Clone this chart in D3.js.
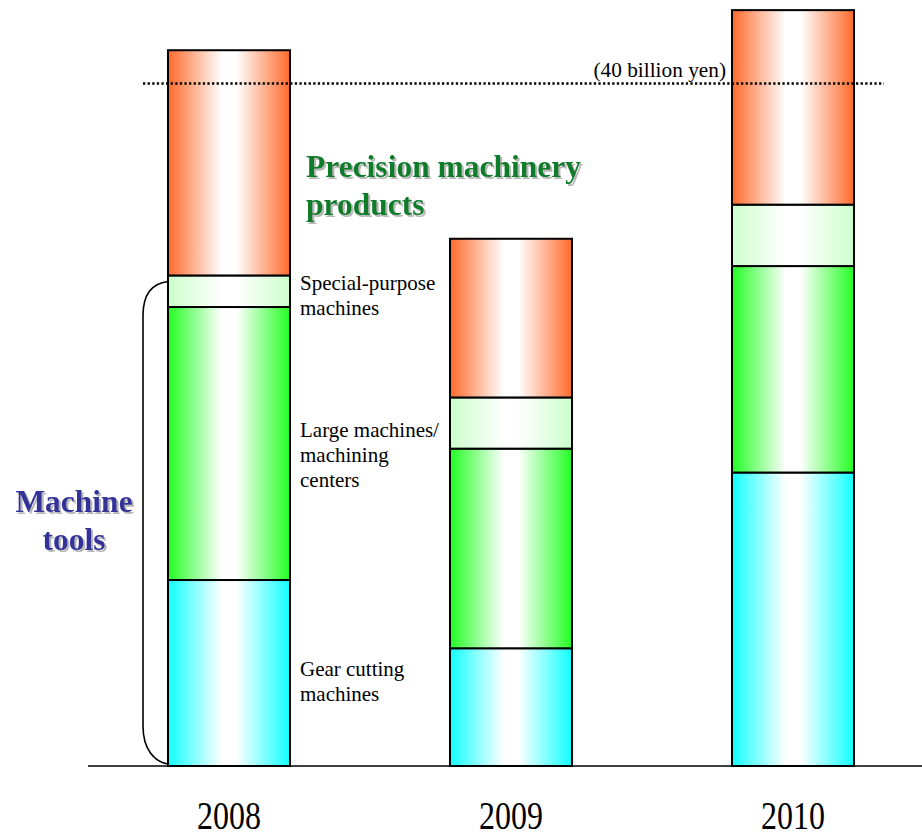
<!DOCTYPE html>
<html>
<head>
<meta charset="utf-8">
<script src="https://cdn.jsdelivr.net/npm/d3@7/dist/d3.min.js"></script>
<style>
  html, body { margin: 0; padding: 0; background: #ffffff; }
  svg { display: block; }
  text { font-family: "Liberation Serif", "Times New Roman", serif; }
</style>
</head>
<body>
<svg id="chart" width="922" height="839"></svg>
<script>
// Sales by segment (billion yen)
const years = ["2008", "2009", "2010"];
const gearCutting = [10.9, 6.9, 17.2];
const largeMachines = [16.0, 11.7, 12.1];
const specialPurpose = [1.85, 3.0, 3.6];
const precisionProducts = [13.2, 9.3, 11.4];
const referenceLevel = 40;
const referenceLabel = "(40 billion yen)";

const segmentNames = ["gear", "large", "special", "precision"];
const segmentValues = [gearCutting, largeMachines, specialPurpose, precisionProducts];
const segmentColors = {
  gear: "#11ffff",
  large: "#22ff22",
  special: "#ccffcc",
  precision: "#ff6a2b"
};

const svg = d3.select("#chart");
const defs = svg.append("defs");

// Horizontal "cylinder" shading: saturated edges, white centre
segmentNames.forEach(name => {
  const g = defs.append("linearGradient")
    .attr("id", "grad-" + name)
    .attr("x1", "0").attr("x2", "1").attr("y1", "0").attr("y2", "0");
  [[0, segmentColors[name]], [0.44, "#ffffff"], [0.56, "#ffffff"], [1, segmentColors[name]]]
    .forEach(([o, c]) => g.append("stop").attr("offset", o).attr("stop-color", c));
});

// Soft grey drop shadow for the group titles
const shadow = defs.append("filter").attr("id", "title-shadow")
  .attr("x", "-10%").attr("y", "-20%").attr("width", "130%").attr("height", "150%");
shadow.append("feDropShadow")
  .attr("dx", 2).attr("dy", 2).attr("stdDeviation", 0.6)
  .attr("flood-color", "#b8b8b8").attr("flood-opacity", 1);

const baseY = 766;
const y = d3.scaleLinear().domain([0, referenceLevel]).range([baseY, 83.5]);
const x = d3.scaleBand().domain(years).range([168, 854]).paddingInner(0.5674).paddingOuter(0);

// Stack the segments
const rows = years.map((yr, i) => {
  const r = { year: yr };
  segmentNames.forEach((n, k) => r[n] = segmentValues[k][i]);
  return r;
});
const stacked = d3.stack().keys(segmentNames)(rows);

const barsG = svg.append("g");
stacked.forEach(layer => {
  barsG.selectAll(null)
    .data(layer)
    .join("rect")
    .attr("x", d => x(d.data.year))
    .attr("width", x.bandwidth())
    .attr("y", d => y(d[1]))
    .attr("height", d => y(d[0]) - y(d[1]))
    .attr("fill", "url(#grad-" + layer.key + ")")
    .attr("stroke", "#000")
    .attr("stroke-width", 2);
});

// Baseline
svg.append("line")
  .attr("x1", 88).attr("x2", 922)
  .attr("y1", baseY).attr("y2", baseY)
  .attr("stroke", "#000").attr("stroke-width", 1.5);

// Reference level (dotted)
svg.append("line")
  .attr("x1", 143).attr("x2", 884)
  .attr("y1", y(referenceLevel)).attr("y2", y(referenceLevel))
  .attr("stroke", "#000").attr("stroke-width", 2.4)
  .attr("stroke-dasharray", "2.3,2.3");
svg.append("text")
  .attr("x", 726).attr("y", y(referenceLevel) - 7)
  .attr("text-anchor", "end")
  .attr("font-size", 21.3)
  .text(referenceLabel);

// Year labels (tall, narrow numerals)
svg.append("g").selectAll("text")
  .data(years)
  .join("text")
  .attr("transform", d => `translate(${x(d) + x.bandwidth() / 2},829) scale(0.78,1)`)
  .attr("text-anchor", "middle")
  .attr("font-size", 41)
  .text(d => d);

// Bracket grouping the machine-tool segments of the first bar
const b0 = stacked[2][0];
const bx = x(years[0]);
const topY = y(b0[1]) + 6;
const botY = baseY - 2;
svg.append("path")
  .attr("d", `M${bx},${topY} C${bx - 17},${topY + 2} ${bx - 25},${topY + 14} ${bx - 25},${topY + 34}
              L${bx - 25},${botY - 38} C${bx - 25},${botY - 14} ${bx - 13},${botY - 2} ${bx},${botY}`)
  .attr("fill", "none").attr("stroke", "#000").attr("stroke-width", 1.6);

// Segment labels beside the first bar
const labelX = x(years[0]) + x.bandwidth() + 10;
const segLabels = [
  { lines: ["Special-purpose", "machines"], y0: 290 },
  { lines: ["Large machines/", "machining", "centers"], y0: 437 },
  { lines: ["Gear cutting", "machines"], y0: 676 }
];
segLabels.forEach(l => {
  const t = svg.append("text").attr("font-size", 21).attr("fill", "#000");
  l.lines.forEach((s, i) => t.append("tspan").attr("x", labelX).attr("y", l.y0 + i * 25).text(s));
});

// Group titles
function title(lines, xPos, y0, dy, color, anchor) {
  const t = svg.append("text")
    .attr("font-size", 31.5).attr("font-weight", "bold")
    .attr("fill", color).attr("text-anchor", anchor)
    .attr("filter", "url(#title-shadow)");
  lines.forEach((s, i) => t.append("tspan").attr("x", xPos).attr("y", y0 + i * dy).text(s));
}
title(["Precision machinery", "products"], 306, 177, 38, "#0b7d2a", "start");
title(["Machine", "tools"], 74, 512, 38, "#333399", "middle");
</script>
</body>
</html>
